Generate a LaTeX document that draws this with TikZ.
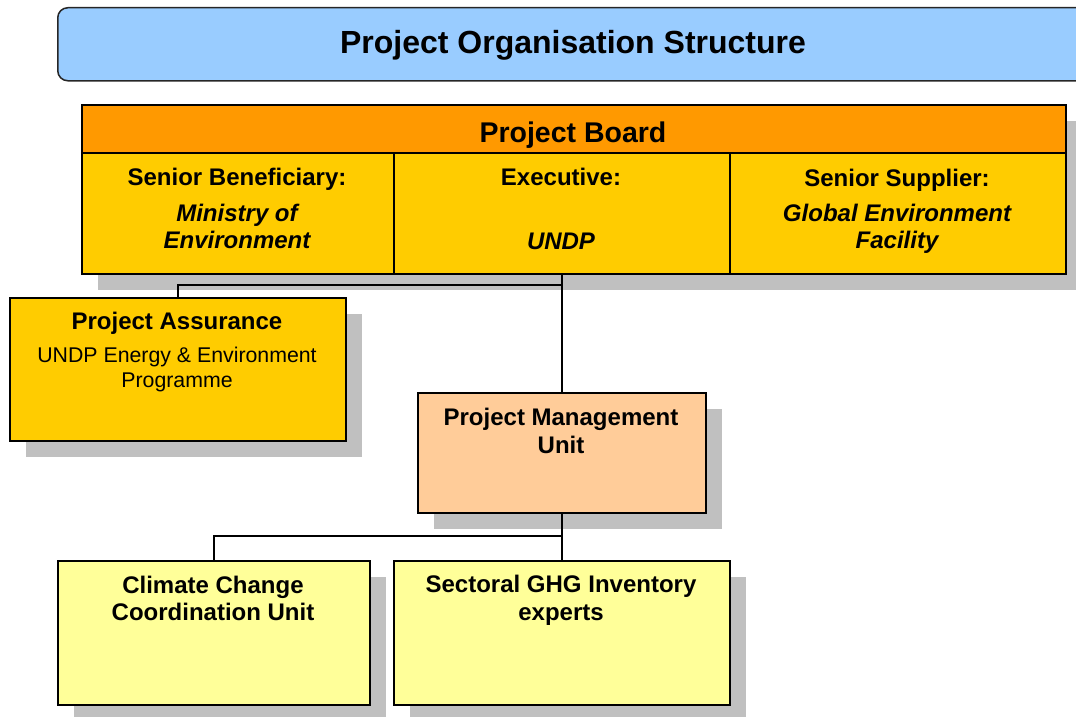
\documentclass[tikz,border=0pt]{standalone}
\usepackage{fontspec}
\setmainfont{Liberation Sans}
\usetikzlibrary{shadows}

\definecolor{bannerblue}{HTML}{99CCFF}
\definecolor{boardorange}{HTML}{FF9900}
\definecolor{boardgold}{HTML}{FFCC00}
\definecolor{pmupeach}{HTML}{FFCC99}
\definecolor{unityellow}{HTML}{FFFF99}
\definecolor{shadowgray}{HTML}{C0C0C0}
\definecolor{shadowdark}{HTML}{A6A6A6}

\tikzset{
  box/.style={draw=black, line width=1.8pt, rectangle, inner sep=0pt,
              anchor=north west},
  shadowed/.style={drop shadow={shadow xshift=16pt, shadow yshift=-16pt,
              fill=shadowgray, opacity=1}},
  link/.style={draw=black, line width=1.6pt},
  headtxt/.style={anchor=base, inner sep=0pt, font=\fontsize{24}{28}\selectfont\bfseries},
  roletxt/.style={anchor=base, inner sep=0pt, font=\fontsize{24}{28}\selectfont\bfseries\itshape},
  plaintxt/.style={anchor=base, inner sep=0pt, font=\fontsize{21.3}{25}\selectfont},
}

\begin{document}
\begin{tikzpicture}[x=1pt, y=-1pt]
  \useasboundingbox (0,0) rectangle (1076,717);

  % title banner
  \node[box, draw=black!85, line width=1.5pt, rounded corners=10pt, fill=bannerblue,
        minimum width=1040pt, minimum height=73pt] (banner) at (57,7) {};
  \node[anchor=base, inner sep=0pt, font=\fontsize{32}{38}\selectfont\bfseries]
        (title) at (573,53) {Project Organisation Structure};

  % project board
  \fill[shadowdark] (1065,168) rectangle (1081,182);
  \node[box, shadowed, fill=boardgold, minimum width=984pt, minimum height=169pt]
        (board) at (81,104) {};
  \node[box, fill=boardorange, minimum width=984pt, minimum height=48pt]
        (bhead) at (81,104) {};
  \node[box, fill=boardgold, minimum width=312pt, minimum height=121pt] (sb) at (81,152) {};
  \node[box, fill=boardgold, minimum width=336pt, minimum height=121pt] (ex) at (393,152) {};
  \node[box, fill=boardgold, minimum width=336pt, minimum height=121pt] (ss) at (729,152) {};

  \node[anchor=base, inner sep=0pt, font=\fontsize{28.5}{34}\selectfont\bfseries]
        (tboard) at (573,142) {Project Board};
  \node[headtxt] (tsb1) at (237,185) {Senior Beneficiary:};
  \node[roletxt] (tsb2) at (237,221) {Ministry of};
  \node[roletxt] (tsb3) at (237,248) {Environment};
  \node[headtxt] (tex1) at (561,185) {Executive:};
  \node[roletxt] (tex2) at (561,249) {UNDP};
  \node[headtxt] (tss1) at (897,186) {Senior Supplier:};
  \node[roletxt] (tss2) at (897,221) {Global Environment};
  \node[roletxt] (tss3) at (897,248) {Facility};

  % project assurance
  \node[box, shadowed, fill=boardgold, minimum width=336pt, minimum height=143pt]
        (asr) at (9,297) {};
  \node[headtxt] (tasr1) at (177,329) {Project Assurance};
  \node[plaintxt] (tasr2) at (177,362) {UNDP Energy \& Environment};
  \node[plaintxt] (tasr3) at (177,387) {Programme};

  % project management unit
  \node[box, shadowed, fill=pmupeach, minimum width=288pt, minimum height=120pt]
        (pmu) at (417,392) {};
  \node[headtxt] (tpmu1) at (561,425) {Project Management};
  \node[headtxt] (tpmu2) at (561,453) {Unit};

  % units under the PMU
  \node[box, shadowed, fill=unityellow, minimum width=312pt, minimum height=144pt]
        (ccu) at (57,560) {};
  \node[headtxt] (tccu1) at (213,593) {Climate Change};
  \node[headtxt] (tccu2) at (213,620) {Coordination Unit};

  \node[box, shadowed, fill=unityellow, minimum width=336pt, minimum height=144pt]
        (ghg) at (393,560) {};
  \node[headtxt] (tghg1) at (561,592) {Sectoral GHG Inventory};
  \node[headtxt] (tghg2) at (561,620) {experts};

  % reporting lines
  \coordinate (j1) at (561,285);
  \coordinate (j2) at (561,536);
  \draw[link] (board.south -| pmu.north) -- (pmu.north);
  \draw[link] (asr.north) |- (j1);
  \draw[link] (pmu.south) -- (ghg.north);
  \draw[link] (ccu.north) |- (j2);
\end{tikzpicture}
\end{document}
